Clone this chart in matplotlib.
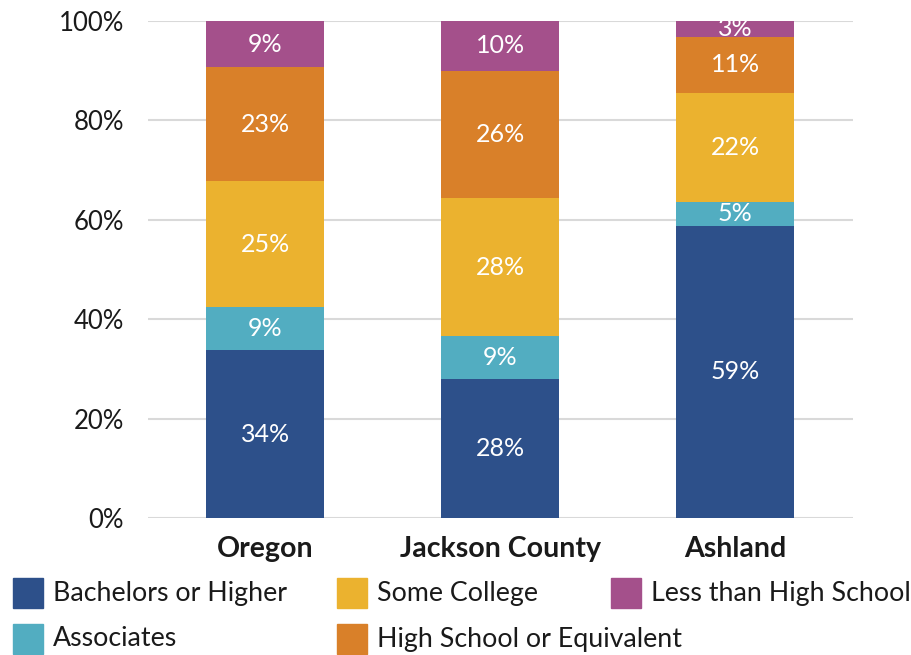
import matplotlib.pyplot as plt
from matplotlib.patches import Rectangle

# Educational attainment (% of adults 25+)
places = ['Oregon', 'Jackson County', 'Ashland']
levels = ['Bachelors or Higher', 'Associates', 'Some College',
          'High School or Equivalent', 'Less than High School']
bachelors = [33.8, 28.0, 58.8]
associates = [8.6, 8.6, 4.8]
some_college = [25.4, 27.8, 21.9]
high_school = [22.9, 25.6, 11.3]
less_hs = [9.3, 10.0, 3.2]
labels = [['34%', '28%', '59%'],
          ['9%', '9%', '5%'],
          ['25%', '28%', '22%'],
          ['23%', '26%', '11%'],
          ['9%', '10%', '3%']]

colors = ['#2d508a', '#52adc1', '#ebb22f', '#d98029', '#a4508b']

plt.rcParams['font.family'] = ['Lato', 'DejaVu Sans']

fig = plt.figure(figsize=(9.12, 6.55), dpi=100)
ax = fig.add_axes([0.162, 0.209, 0.773, 0.759])

series = [bachelors, associates, some_college, high_school, less_hs]
x = range(len(places))
bottom = [0, 0, 0]
for vals, col, labs in zip(series, colors, labels):
    bars = ax.bar(x, vals, width=0.5, bottom=bottom, color=col, zorder=3)
    for b, lab in zip(bars, labs):
        ax.text(b.get_x() + b.get_width() / 2, b.get_y() + b.get_height() / 2,
                lab, ha='center', va='center', color='white', fontsize=18,
                zorder=4, clip_on=True)
    bottom = [b + v for b, v in zip(bottom, vals)]

ax.set_xlim(-0.5, 2.5)
ax.set_ylim(0, 100)
ax.set_yticks([0, 20, 40, 60, 80, 100])
ax.set_yticklabels(['0%', '20%', '40%', '60%', '80%', '100%'])
ax.set_xticks(list(x))
ax.set_xticklabels(places, fontweight='bold')
ax.tick_params(axis='y', length=0, pad=17, labelsize=18.5, colors='#1a1a1a')
ax.tick_params(axis='x', length=0, pad=13, labelsize=20.5, colors='#1a1a1a')
ax.grid(axis='y', color='#d9d9d9', linewidth=1.5, zorder=0)
for s in ax.spines.values():
    s.set_visible(False)

# legend drawn by hand, three columns
W, H = 912, 655
legend_pos = [(13, 593), (13, 639), (337, 593), (337, 639), (611, 593)]
for (px, py), name, col in zip(legend_pos, levels, colors):
    fig.patches.append(Rectangle((px / W, (H - py - 15) / H), 30 / W, 30 / H,
                                 transform=fig.transFigure, color=col))
    fig.text((px + 40) / W, (H - py) / H, name, fontsize=19.3,
             va='center', ha='left', color='#1a1a1a')

fig.savefig('out.png', dpi=100)
